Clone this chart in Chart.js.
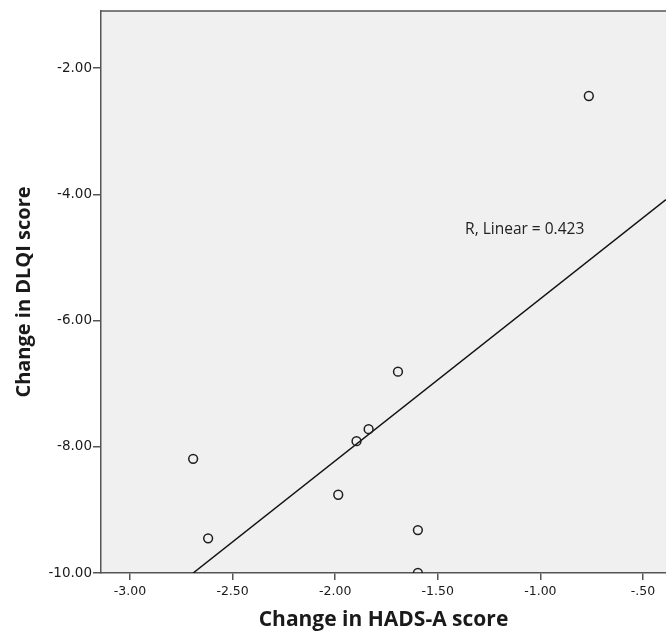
<!DOCTYPE html>
<html lang="en">

<head>
    <meta charset="UTF-8">
    <title>Change in DLQI vs HADS-A</title>
    <script src="https://cdn.jsdelivr.net/npm/chart.js"></script>
    <style>
        body {
            margin: 0;
            background-color: #ffffff;
        }

        .wrap {
            width: 666px;
            height: 637px;
        }
    </style>
</head>

<body>
    <div class="wrap">
        <canvas id="scatter" width="666" height="637"></canvas>
    </div>

    <script>
        // Data
        const hadsChange = [-0.764, -1.694, -1.837, -1.896, -2.692, -1.985, -1.597, -2.619, -1.597];
        const dlqiChange = [-2.44, -6.81, -7.72, -7.91, -8.19, -8.76, -9.32, -9.45, -10.0];

        // fit line ends (R² linear = 0.423)
        const fitX = [-2.692, -0.388];
        const fitY = [-10.0, -4.08];
        const fitLabel = 'R, Linear = 0.423';
        const fitLabelAt = { x: -1.367, y: -4.55 };

        const xTicks = [-3.0, -2.5, -2.0, -1.5, -1.0, -0.5];
        const yTicks = [-10, -8, -6, -4, -2];

        const axisColor = '#555555';
        const fontFamily = '"Open Sans", "DejaVu Sans", sans-serif';

        function fmtX(v) {
            // SPSS style: -.50 instead of -0.50
            let s = v.toFixed(2);
            return s.replace(/^(-?)0\./, '$1.');
        }

        // grey plot background, top border and the R² text
        const plotFrame = {
            id: 'plotFrame',
            beforeDraw(chart) {
                const { ctx, chartArea: a } = chart;
                ctx.save();
                ctx.fillStyle = '#f0f0f0';
                ctx.fillRect(a.left, a.top, a.right - a.left, a.bottom - a.top);
                ctx.strokeStyle = axisColor;
                ctx.lineWidth = 1.5;
                ctx.beginPath();
                ctx.moveTo(a.left, a.top);
                ctx.lineTo(a.right, a.top);
                ctx.stroke();
                ctx.restore();
            },
            afterDatasetsDraw(chart) {
                const { ctx, scales } = chart;
                ctx.save();
                ctx.fillStyle = '#222222';
                ctx.font = '15.5px ' + fontFamily;
                ctx.textBaseline = 'middle';
                ctx.fillText(fitLabel, scales.x.getPixelForValue(fitLabelAt.x), scales.y.getPixelForValue(fitLabelAt.y));
                ctx.restore();
            }
        };

        const ctx = document.getElementById('scatter').getContext('2d');
        new Chart(ctx, {
            type: 'scatter',
            data: {
                datasets: [{
                    data: hadsChange.map((x, i) => ({ x: x, y: dlqiChange[i] })),
                    pointStyle: 'circle',
                    pointRadius: 4.4,
                    borderWidth: 1.5,
                    borderColor: '#1e1e1e',
                    backgroundColor: 'rgba(0,0,0,0)',
                    clip: 0
                }, {
                    type: 'line',
                    data: fitX.map((x, i) => ({ x: x, y: fitY[i] })),
                    borderColor: '#111111',
                    borderWidth: 1.5,
                    pointRadius: 0,
                    fill: false
                }]
            },
            options: {
                responsive: false,
                animation: false,
                layout: { autoPadding: false, padding: { top: 11, left: 0, right: 0, bottom: 0 } },
                plugins: {
                    legend: { display: false },
                    tooltip: { enabled: false }
                },
                scales: {
                    x: {
                        type: 'linear',
                        min: -3.141,
                        max: -0.388,
                        afterBuildTicks: s => { s.ticks = xTicks.map(v => ({ value: v })); },
                        afterFit: s => {
                            s.height = 64;
                            s.paddingLeft = 0;
                            s.paddingRight = 0;
                        },
                        ticks: {
                            callback: v => fmtX(v),
                            color: '#1a1a1a',
                            font: { family: '"DejaVu Sans", sans-serif', size: 12.5 },
                            padding: 4,
                            maxRotation: 0
                        },
                        grid: {
                            drawOnChartArea: false,
                            drawTicks: true,
                            tickLength: 7,
                            color: axisColor,
                            lineWidth: 1.5
                        },
                        border: { display: true, color: axisColor, width: 1.5 },
                        title: {
                            display: true,
                            text: 'Change in HADS-A score',
                            color: '#1a1a1a',
                            font: { family: fontFamily, size: 21, weight: 'bold' },
                            padding: { top: 0, bottom: 4 }
                        }
                    },
                    y: {
                        type: 'linear',
                        min: -10,
                        max: -1.093,
                        afterBuildTicks: s => { s.ticks = yTicks.map(v => ({ value: v })); },
                        afterFit: s => { s.width = 101; },
                        ticks: {
                            callback: v => v.toFixed(2),
                            color: '#1a1a1a',
                            font: { family: '"DejaVu Sans", sans-serif', size: 13.5 },
                            padding: 1
                        },
                        grid: {
                            drawOnChartArea: false,
                            drawTicks: true,
                            tickLength: 8,
                            color: axisColor,
                            lineWidth: 1.5
                        },
                        border: { display: true, color: axisColor, width: 1.5 },
                        title: {
                            display: true,
                            text: 'Change in DLQI score',
                            color: '#1a1a1a',
                            font: { family: fontFamily, size: 20, weight: 'bold' },
                            padding: { top: 12, bottom: 0 }
                        }
                    }
                }
            },
            plugins: [plotFrame]
        });
    </script>
</body>

</html>
